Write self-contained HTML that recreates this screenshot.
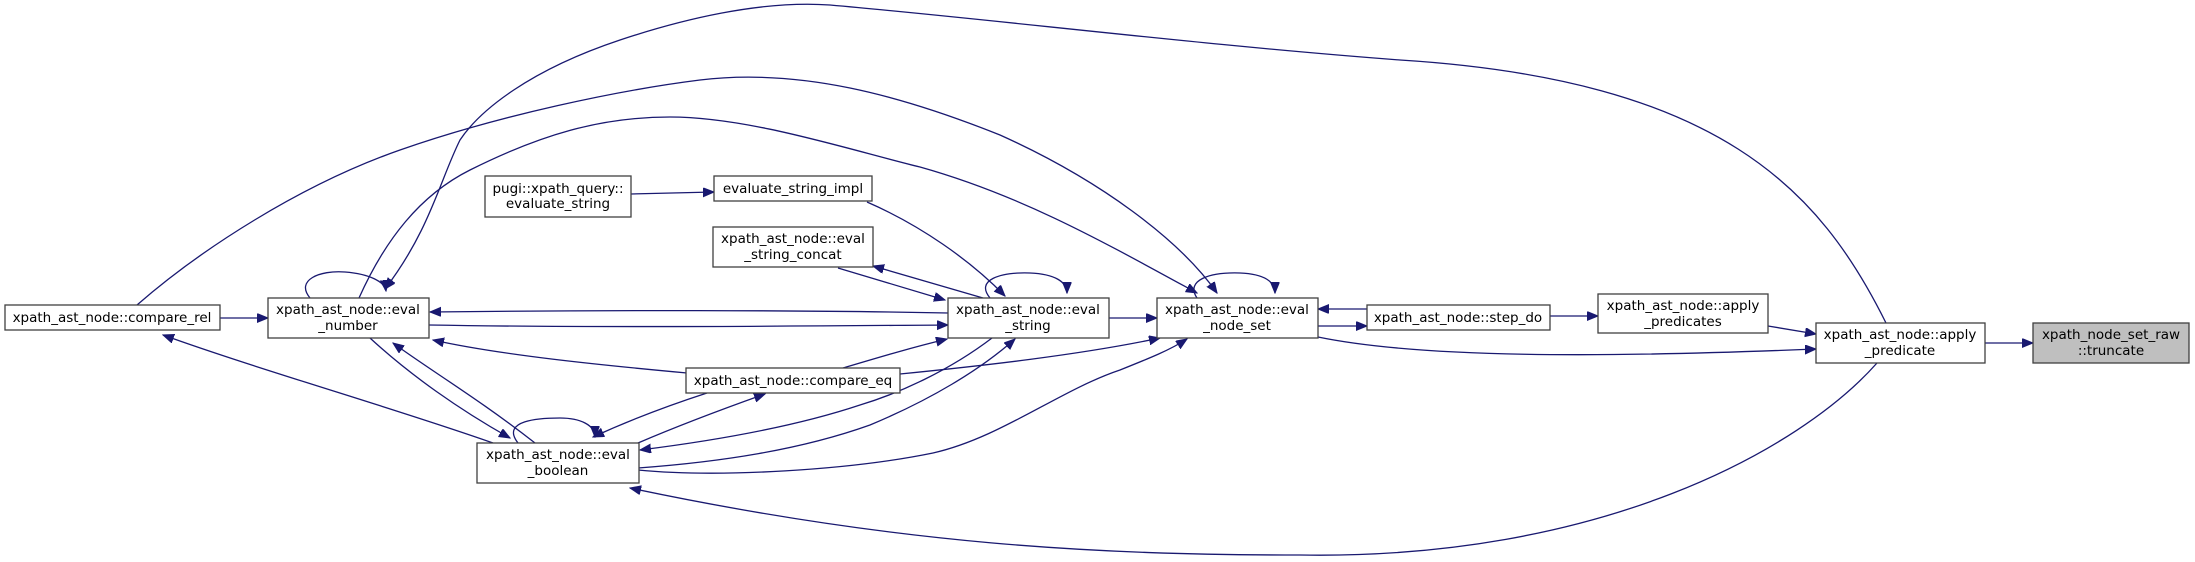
<!DOCTYPE html>
<html><head><meta charset="utf-8">
<style>
html,body{margin:0;padding:0;background:#fff;}
svg{display:block;}
text{font-family:"DejaVu Sans","Liberation Sans",sans-serif;font-size:13.5px;fill:#000;text-anchor:middle;}
.n{fill:#fff;stroke:#404040;stroke-width:1.3;}
.e{fill:none;stroke:#191970;stroke-width:1.3;}
</style></head>
<body>
<svg width="2195" height="562" viewBox="0 0 2195 562" xmlns="http://www.w3.org/2000/svg">
<defs>
<marker id="a" markerUnits="userSpaceOnUse" markerWidth="12" markerHeight="10" refX="11" refY="4.5" orient="auto">
<path d="M0,0 L11,4.5 L0,9 z" fill="#191970" stroke="#191970"/>
</marker>
</defs>

<!-- edges -->
<path class="e" marker-end="url(#a)" d="M1985,343 L2033,343"/>
<path class="e" marker-end="url(#a)" d="M1768,326 L1816,334"/>
<path class="e" marker-end="url(#a)" d="M1550,316 L1598,316"/>
<path class="e" marker-end="url(#a)" d="M1318,326 L1367,326"/>
<path class="e" marker-end="url(#a)" d="M1367,309 L1318,309"/>
<path class="e" marker-end="url(#a)" d="M1318,337 C1420,358 1600,358 1816,349"/>
<path class="e" marker-end="url(#a)" d="M1886,323 C1820,190 1720,80 1400,60 C1200,45 1000,20 830,5 C760,0 680,20 620,40 C530,70 480,110 460,140 C440,180 430,230 385,289"/>
<path class="e" marker-end="url(#a)" d="M359,298 C385,240 420,195 470,170 C540,135 600,117 670,117 C750,117 850,150 920,167 C1020,195 1100,240 1197,293"/>
<path class="e" marker-end="url(#a)" d="M137,305 C200,250 300,185 400,150 C500,115 620,90 700,80 C800,68 900,95 1000,135 C1100,180 1180,240 1217,293"/>
<path class="e" marker-end="url(#a)" d="M1877,363 C1800,450 1600,560 1300,555 C1100,555 900,545 630,488"/>
<path class="e" marker-end="url(#a)" d="M310,298 C295,280 320,270 345,272 C370,274 385,282 386,291"/>
<path class="e" marker-end="url(#a)" d="M220,318 L268,318"/>
<path class="e" marker-end="url(#a)" d="M948,313 C800,310 600,310 430,312"/>
<path class="e" marker-end="url(#a)" d="M429,325 C600,328 800,326 948,325"/>
<path class="e" marker-end="url(#a)" d="M687,373 C600,365 500,355 433,340"/>
<path class="e" marker-end="url(#a)" d="M535,443 C480,400 430,370 393,343"/>
<path class="e" marker-end="url(#a)" d="M370,338 C410,375 460,410 510,438"/>
<path class="e" marker-end="url(#a)" d="M493,443 C400,410 260,370 163,335"/>
<path class="e" marker-end="url(#a)" d="M518,443 C500,420 540,418 560,418 C580,418 595,425 595,437"/>
<path class="e" marker-end="url(#a)" d="M707,393 C670,405 630,420 593,437"/>
<path class="e" marker-end="url(#a)" d="M638,443 C680,425 720,410 765,394"/>
<path class="e" marker-end="url(#a)" d="M992,338 C950,370 900,393 860,405 C800,425 720,440 640,450"/>
<path class="e" marker-end="url(#a)" d="M638,468 C720,462 800,450 870,425 C930,400 980,370 1015,339"/>
<path class="e" marker-end="url(#a)" d="M638,470 C720,478 850,470 933,453 C1000,438 1060,390 1120,370 C1150,358 1170,350 1187,339"/>
<path class="e" marker-end="url(#a)" d="M843,368 C880,357 910,348 947,339"/>
<path class="e" marker-end="url(#a)" d="M900,374 C980,366 1080,355 1160,338"/>
<path class="e" marker-end="url(#a)" d="M1109,318 L1157,318"/>
<path class="e" marker-end="url(#a)" d="M990,298 C975,280 1000,272 1030,273 C1055,274 1067,282 1067,293"/>
<path class="e" marker-end="url(#a)" d="M1197,298 C1185,280 1210,272 1240,273 C1265,274 1275,282 1275,293"/>
<path class="e" marker-end="url(#a)" d="M867,202 C920,225 970,260 1005,296"/>
<path class="e" marker-end="url(#a)" d="M838,268 L945,300"/>
<path class="e" marker-end="url(#a)" d="M983,298 L873,266"/>
<path class="e" marker-end="url(#a)" d="M631,194 L714,192"/>

<!-- nodes -->
<rect class="n" x="5" y="305" width="215" height="25"/>
<text x="112" y="322">xpath_ast_node::compare_rel</text>

<rect class="n" x="268" y="298" width="161" height="40"/>
<text x="348" y="314">xpath_ast_node::eval</text>
<text x="348" y="330">_number</text>

<rect class="n" x="485" y="176" width="146" height="41"/>
<text x="558" y="193">pugi::xpath_query::</text>
<text x="558" y="208">evaluate_string</text>

<rect class="n" x="714" y="176" width="158" height="25"/>
<text x="793" y="193">evaluate_string_impl</text>

<rect class="n" x="713" y="227" width="160" height="40"/>
<text x="793" y="243">xpath_ast_node::eval</text>
<text x="793" y="259">_string_concat</text>

<rect class="n" x="686" y="368" width="214" height="25"/>
<text x="793" y="385">xpath_ast_node::compare_eq</text>

<rect class="n" x="477" y="443" width="162" height="40"/>
<text x="558" y="459">xpath_ast_node::eval</text>
<text x="558" y="475">_boolean</text>

<rect class="n" x="948" y="298" width="161" height="40"/>
<text x="1028" y="314">xpath_ast_node::eval</text>
<text x="1028" y="330">_string</text>

<rect class="n" x="1157" y="298" width="161" height="40"/>
<text x="1237" y="314">xpath_ast_node::eval</text>
<text x="1237" y="330">_node_set</text>

<rect class="n" x="1367" y="305" width="183" height="25"/>
<text x="1458" y="322">xpath_ast_node::step_do</text>

<rect class="n" x="1598" y="294" width="170" height="39"/>
<text x="1683" y="310">xpath_ast_node::apply</text>
<text x="1683" y="326">_predicates</text>

<rect class="n" x="1816" y="323" width="169" height="40"/>
<text x="1900" y="339">xpath_ast_node::apply</text>
<text x="1900" y="355">_predicate</text>

<rect class="n" x="2033" y="323" width="156" height="40" style="fill:#bfbfbf"/>
<text x="2111" y="339">xpath_node_set_raw</text>
<text x="2111" y="355">::truncate</text>
</svg>
</body></html>
